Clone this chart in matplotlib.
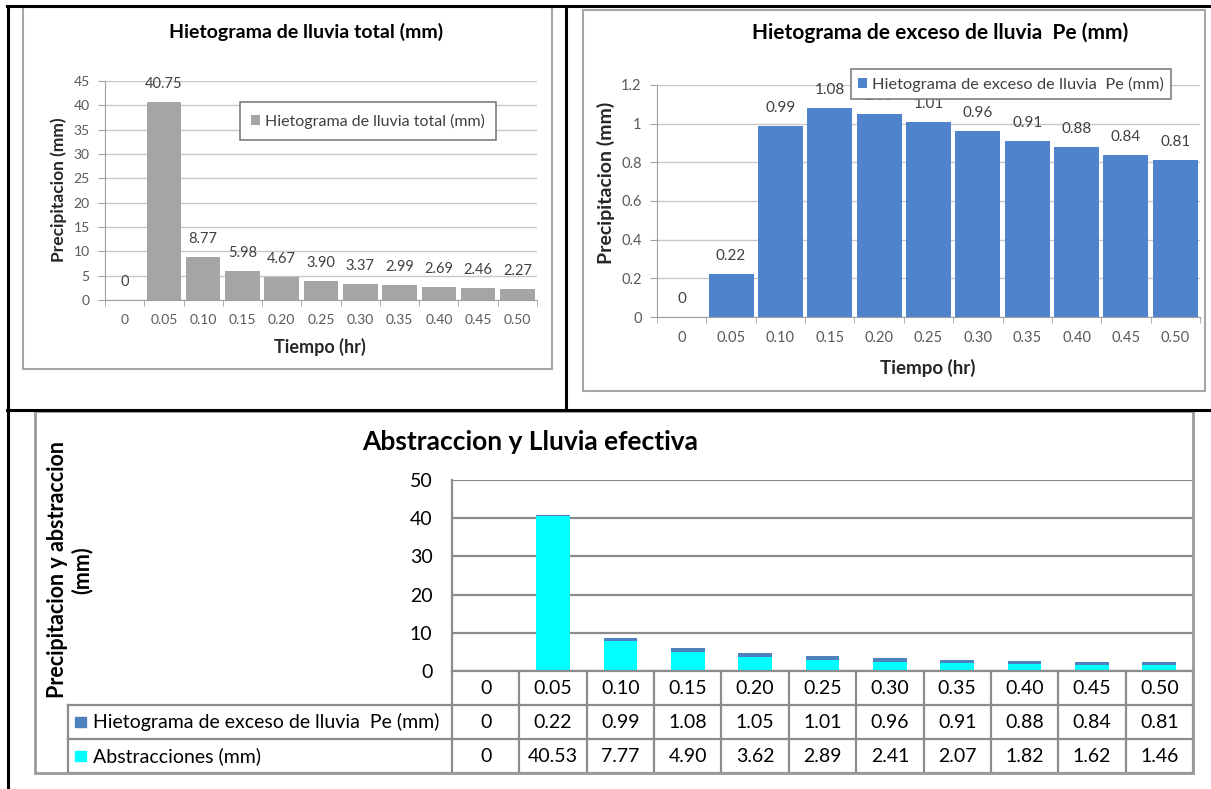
import matplotlib
matplotlib.use("Agg")
import matplotlib.pyplot as plt
from matplotlib.patches import Rectangle
from matplotlib.lines import Line2D
import numpy as np

# ---- data ----
tiempo = ["0", "0.05", "0.10", "0.15", "0.20", "0.25", "0.30", "0.35", "0.40", "0.45", "0.50"]
lluvia_total = [0, 40.75, 8.77, 5.98, 4.67, 3.90, 3.37, 2.99, 2.69, 2.46, 2.27]
exceso_pe = [0, 0.22, 0.99, 1.08, 1.05, 1.01, 0.96, 0.91, 0.88, 0.84, 0.81]
abstracciones = [0, 40.53, 7.77, 4.90, 3.62, 2.89, 2.41, 2.07, 1.82, 1.62, 1.46]

plt.rcParams['font.family'] = ['Lato', 'DejaVu Sans']

W, H = 1211, 789
fig = plt.figure(figsize=(W / 100, H / 100), dpi=100)


def fx(x):
    return x / W


def fy(y):
    return 1 - y / H


def box(x0, y0, x1, y1):
    return [fx(x0), fy(y1), (x1 - x0) / W, (y1 - y0) / H]


def fmt(v):
    return "0" if v == 0 else f"{v:.2f}"


def hline(y, x0, x1, color='black', lw=2.2):
    fig.add_artist(Line2D([fx(x0), fx(x1)], [fy(y), fy(y)], color=color, lw=lw))


def vline(x, y0, y1, color='black', lw=2.2):
    fig.add_artist(Line2D([fx(x), fx(x)], [fy(y0), fy(y1)], color=color, lw=lw))


def frame(x0, y0, x1, y1, color='#a6a6a6', lw=1.5):
    fig.add_artist(Rectangle((fx(x0), fy(y1)), (x1 - x0) / W, (y1 - y0) / H,
                             fill=False, ec=color, lw=lw))


# document table borders
hline(6, 7, 1211)
hline(410, 7, 1211)
vline(8, 6, 789)
vline(566, 6, 410)

x = np.arange(len(tiempo))
TICK_GRAY = '#595959'
GRID_LIGHT = '#c8c8c8'


def small_hist(ax, values, color, width, ylim, yticks, label, fs):
    bars = ax.bar(x, values, width=width, color=color, zorder=2, label=label)
    ax.set_xlim(-0.5, len(tiempo) - 0.5)
    ax.set_ylim(*ylim)
    ax.set_yticks(yticks)
    ax.yaxis.set_major_formatter(plt.FuncFormatter(lambda v, p: f"{v:g}"))
    ax.set_xticks(x)
    ax.set_xticklabels(tiempo)
    ax.set_xticks(np.arange(-0.5, len(tiempo)), minor=True)
    ax.tick_params(axis='x', which='major', length=0, pad=10, labelsize=fs, labelcolor=TICK_GRAY)
    ax.tick_params(axis='x', which='minor', length=4, color='#a0a0a0', direction='out')
    ax.tick_params(axis='y', length=5, color='#a0a0a0', pad=6, labelsize=fs, labelcolor=TICK_GRAY)
    ax.yaxis.grid(True, color=GRID_LIGHT, lw=1)
    ax.set_axisbelow(True)
    for s in ['top', 'right']:
        ax.spines[s].set_visible(False)
    for s in ['left', 'bottom']:
        ax.spines[s].set_color('#a0a0a0')
    for i, v in enumerate(values):
        ax.annotate(fmt(v), (i, v), xytext=(0, 18), textcoords='offset pixels',
                    ha='center', va='center', fontsize=fs + 0.5, color='#404040', zorder=3)
    return bars


# ---- Hietograma de lluvia total ----
frame(23, 7, 552, 369)
ax1 = fig.add_axes(box(105, 81, 537, 300))
small_hist(ax1, lluvia_total, '#a5a5a5', 0.88, (0, 45), np.arange(0, 46, 5),
           "Hietograma de lluvia total (mm)", 10)
leg1 = ax1.legend(loc='center', bbox_to_anchor=(fx(368), fy(121)), bbox_transform=fig.transFigure,
                  fancybox=False, edgecolor='#7f7f7f', framealpha=1, fontsize=11.5,
                  handlelength=0.55, handleheight=0.55, handletextpad=0.3, borderpad=0.7)
leg1.get_frame().set_linewidth(1.2)
for t in leg1.get_texts():
    t.set_color('#404040')
fig.text(fx(306), fy(32), "Hietograma de lluvia total (mm)", ha='center', va='center',
         fontsize=14, fontweight='bold')
fig.text(fx(59), fy(190), "Precipitacion (mm)", ha='center', va='center', rotation=90,
         fontsize=12.5, fontweight='bold', color='#262626')
fig.text(fx(320), fy(347), "Tiempo (hr)", ha='center', va='center',
         fontsize=13, fontweight='bold', color='#262626')

# ---- Hietograma de exceso de lluvia ----
frame(583, 10, 1205, 391)
ax2 = fig.add_axes(box(657, 85, 1200, 317))
small_hist(ax2, exceso_pe, '#4f83cc', 0.91, (0, 1.2), np.round(np.arange(0, 1.21, 0.2), 1),
           "Hietograma de exceso de lluvia  Pe (mm)", 10.5)
leg2 = ax2.legend(loc='center', bbox_to_anchor=(fx(1011), fy(84)), bbox_transform=fig.transFigure,
                  fancybox=False, edgecolor='#7f7f7f', framealpha=1, fontsize=11.8,
                  handlelength=0.55, handleheight=0.55, handletextpad=0.3, borderpad=0.45)
leg2.get_frame().set_linewidth(1.2)
leg2.set_zorder(5)
for t in leg2.get_texts():
    t.set_color('#404040')
fig.text(fx(940), fy(33), "Hietograma de exceso de lluvia  Pe (mm)", ha='center', va='center',
         fontsize=15, fontweight='bold')
fig.text(fx(606), fy(183), "Precipitacion (mm)", ha='center', va='center', rotation=90,
         fontsize=14, fontweight='bold', color='#262626')
fig.text(fx(928), fy(368), "Tiempo (hr)", ha='center', va='center',
         fontsize=13.5, fontweight='bold', color='#262626')

# ---- Abstraccion y Lluvia efectiva ----
TABLE_GRAY = '#8c8c8c'
frame(35, 411, 1193, 773, color='#9a9a9a', lw=2)
ax3 = fig.add_axes(box(452, 480, 1193, 671))
ax3.bar(x, abstracciones, width=0.5, color='#00ffff', zorder=2, label="Abstracciones (mm)")
ax3.bar(x, exceso_pe, bottom=abstracciones, width=0.5, color='#4f81bd', zorder=2,
        label="Hietograma de exceso de lluvia  Pe (mm)")
ax3.set_xlim(-0.5, len(tiempo) - 0.5)
ax3.set_ylim(0, 50)
ax3.set_yticks(np.arange(0, 51, 10))
ax3.set_xticks([])
ax3.tick_params(axis='y', length=0, pad=14, labelsize=14)
ax3.yaxis.grid(True, color=TABLE_GRAY, lw=1.6)
ax3.set_axisbelow(True)
for s in ['top', 'right', 'bottom']:
    ax3.spines[s].set_visible(False)
ax3.spines['left'].set_color(TABLE_GRAY)
ax3.spines['left'].set_linewidth(1.6)

fig.text(fx(530), fy(442), "Abstraccion y Lluvia efectiva", ha='center', va='center',
         fontsize=19, fontweight='bold')
fig.text(fx(70), fy(570), "Precipitacion y abstraccion\n(mm)", ha='center', va='center',
         rotation=90, multialignment='center', linespacing=1.15, fontsize=15.5, fontweight='bold')

# data table under the chart, columns aligned with the categories
tab = fig.add_axes(box(452, 671, 1193, 773))
tab.set_xlim(-0.5, len(tiempo) - 0.5)
tab.set_ylim(3, 0)
tab.axis('off')
col_px = (1193 - 452) / len(tiempo)
x_lab = -0.5 - (452 - 68) / col_px
kw = dict(color=TABLE_GRAY, lw=1.6, clip_on=False)
tab.plot([-0.5, len(tiempo) - 0.5], [0, 0], **kw)
for r in (1, 2, 3):
    tab.plot([x_lab, len(tiempo) - 0.5], [r, r], **kw)
for c in range(len(tiempo) + 1):
    tab.plot([c - 0.5, c - 0.5], [0, 3], **kw)
tab.plot([x_lab, x_lab], [1, 3], **kw)

rows = [("Hietograma de exceso de lluvia  Pe (mm)", exceso_pe, '#4f81bd'),
        ("Abstracciones (mm)", abstracciones, '#00ffff')]
for i, t in enumerate(tiempo):
    tab.text(i, 0.5, t, ha='center', va='center', fontsize=14)
for r, (name, vals, color) in enumerate(rows, start=1):
    tab.add_patch(Rectangle((x_lab + 0.1, r + 0.5 - 0.16), 11 / col_px, 0.32,
                            color=color, clip_on=False))
    tab.text(x_lab + 0.37, r + 0.5, name, ha='left', va='center', fontsize=14)
    for i, v in enumerate(vals):
        tab.text(i, r + 0.5, fmt(v), ha='center', va='center', fontsize=14)

fig.savefig("out.png", dpi=100)
